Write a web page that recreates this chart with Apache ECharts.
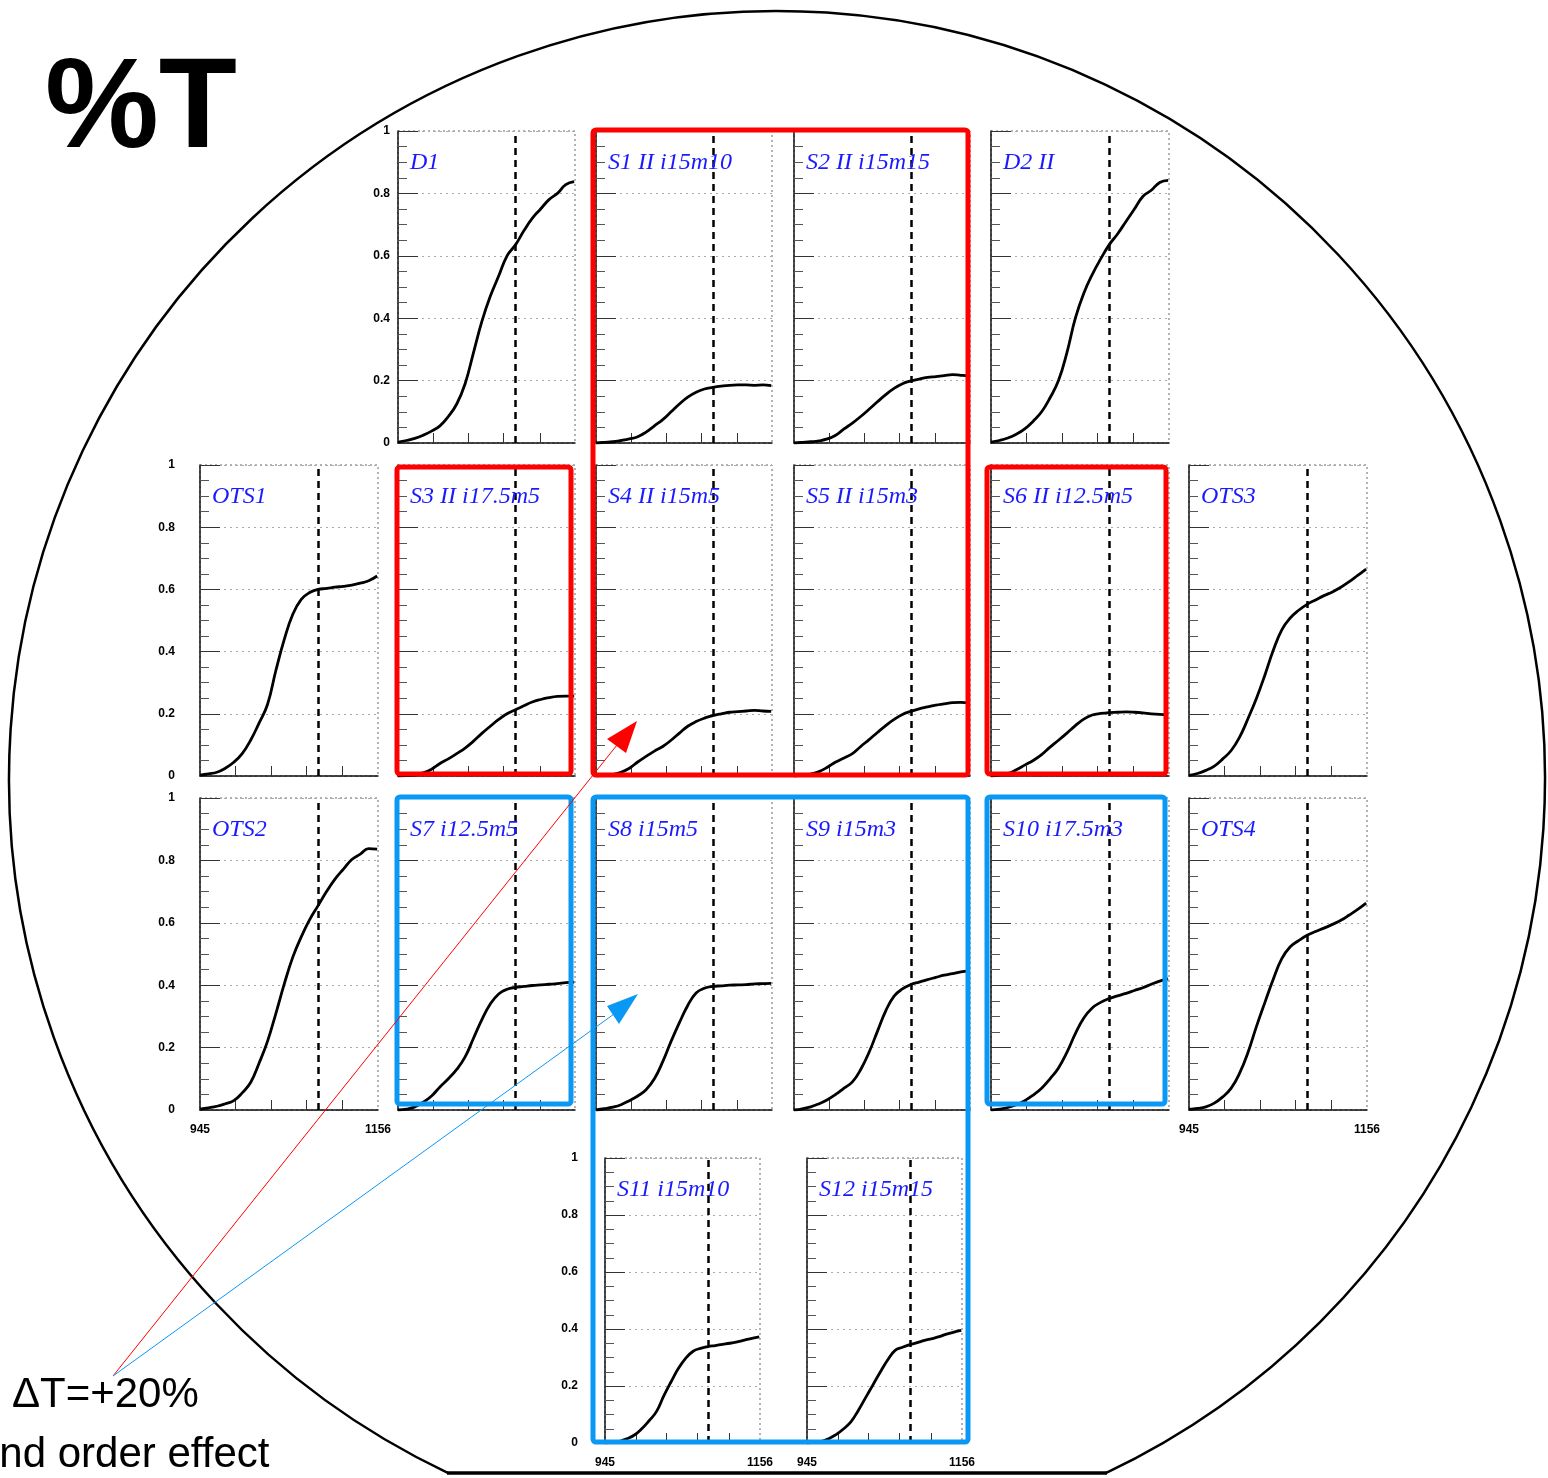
<!DOCTYPE html>
<html>
<head>
<meta charset="utf-8">
<style>
html, body { margin: 0; padding: 0; background: #fff; }
#main { width: 1548px; height: 1478px; }
</style>
<script src="https://cdn.jsdelivr.net/npm/echarts@6/dist/echarts.min.js"></script>
</head>
<body>
<div id="main"></div>
<script>
// x samples (same for every panel)
const wavelength = [945, 955, 965, 975, 985, 995, 1005, 1015, 1025, 1035, 1045, 1055, 1065, 1075, 1085, 1095, 1105, 1115, 1125, 1135, 1145, 1155];
const xTicks = [987, 1029, 1071, 1114];
const xTickLabels = [945, 1156];
const cutValue = 1085;

// %T per site
const d1   = [0.003, 0.008, 0.015, 0.025, 0.038, 0.055, 0.085, 0.125, 0.19, 0.29, 0.39, 0.47, 0.535, 0.60, 0.635, 0.68, 0.72, 0.75, 0.78, 0.80, 0.828, 0.838];
const s1   = [0.0, 0.002, 0.004, 0.008, 0.013, 0.02, 0.035, 0.055, 0.075, 0.10, 0.125, 0.147, 0.163, 0.173, 0.178, 0.182, 0.185, 0.186, 0.186, 0.185, 0.186, 0.184];
const s2   = [0.0, 0.002, 0.004, 0.007, 0.013, 0.025, 0.045, 0.064, 0.085, 0.108, 0.132, 0.155, 0.175, 0.19, 0.199, 0.205, 0.21, 0.213, 0.216, 0.219, 0.217, 0.215];
const d2   = [0.003, 0.008, 0.016, 0.028, 0.045, 0.07, 0.10, 0.145, 0.20, 0.29, 0.40, 0.48, 0.54, 0.59, 0.635, 0.67, 0.71, 0.75, 0.79, 0.81, 0.835, 0.842];
const ots1 = [0.003, 0.007, 0.012, 0.025, 0.044, 0.072, 0.115, 0.17, 0.23, 0.34, 0.44, 0.52, 0.568, 0.59, 0.60, 0.603, 0.607, 0.61, 0.614, 0.62, 0.628, 0.643];
const s3   = [0.0, 0.001, 0.003, 0.01, 0.022, 0.04, 0.055, 0.072, 0.09, 0.112, 0.137, 0.16, 0.182, 0.20, 0.213, 0.226, 0.238, 0.246, 0.252, 0.256, 0.257, 0.257];
const s4   = [0.0, 0.002, 0.005, 0.012, 0.025, 0.045, 0.063, 0.08, 0.095, 0.115, 0.138, 0.16, 0.175, 0.186, 0.194, 0.20, 0.205, 0.207, 0.209, 0.211, 0.209, 0.208];
const s5   = [0.0, 0.002, 0.006, 0.014, 0.028, 0.045, 0.058, 0.072, 0.095, 0.117, 0.14, 0.162, 0.182, 0.198, 0.208, 0.216, 0.222, 0.228, 0.232, 0.236, 0.237, 0.234];
const s6   = [0.0, 0.003, 0.008, 0.02, 0.035, 0.05, 0.069, 0.093, 0.115, 0.138, 0.162, 0.183, 0.196, 0.201, 0.204, 0.205, 0.206, 0.205, 0.203, 0.20, 0.198, 0.197];
const ots3 = [0.002, 0.008, 0.018, 0.032, 0.055, 0.082, 0.125, 0.185, 0.25, 0.325, 0.405, 0.47, 0.508, 0.533, 0.552, 0.566, 0.58, 0.592, 0.607, 0.625, 0.645, 0.665];
const ots2 = [0.003, 0.007, 0.012, 0.02, 0.03, 0.055, 0.088, 0.15, 0.22, 0.31, 0.405, 0.49, 0.555, 0.61, 0.655, 0.70, 0.74, 0.772, 0.803, 0.82, 0.838, 0.836];
const s7   = [0.0, 0.003, 0.01, 0.025, 0.045, 0.074, 0.10, 0.13, 0.17, 0.23, 0.29, 0.34, 0.372, 0.387, 0.393, 0.396, 0.399, 0.401, 0.403, 0.405, 0.408, 0.41];
const s8   = [0.0, 0.004, 0.009, 0.017, 0.03, 0.045, 0.065, 0.10, 0.155, 0.22, 0.28, 0.335, 0.375, 0.39, 0.396, 0.398, 0.40, 0.401, 0.402, 0.404, 0.405, 0.406];
const s9   = [0.0, 0.004, 0.01, 0.02, 0.033, 0.05, 0.07, 0.09, 0.13, 0.185, 0.252, 0.318, 0.365, 0.388, 0.402, 0.41, 0.418, 0.425, 0.432, 0.437, 0.443, 0.446];
const s10  = [0.0, 0.003, 0.008, 0.017, 0.03, 0.048, 0.07, 0.10, 0.135, 0.185, 0.245, 0.295, 0.327, 0.345, 0.357, 0.366, 0.374, 0.383, 0.392, 0.403, 0.413, 0.42];
const ots4 = [0.002, 0.005, 0.01, 0.022, 0.042, 0.07, 0.118, 0.185, 0.268, 0.345, 0.42, 0.485, 0.523, 0.543, 0.56, 0.572, 0.583, 0.595, 0.608, 0.625, 0.643, 0.663];
const s11  = [0.0, 0.002, 0.006, 0.015, 0.028, 0.05, 0.078, 0.11, 0.165, 0.215, 0.262, 0.298, 0.322, 0.332, 0.338, 0.342, 0.346, 0.35, 0.355, 0.361, 0.367, 0.372];
const s12  = [0.0, 0.002, 0.006, 0.016, 0.03, 0.05, 0.075, 0.115, 0.16, 0.205, 0.25, 0.292, 0.325, 0.336, 0.345, 0.352, 0.36, 0.366, 0.373, 0.382, 0.389, 0.395];

// panel layout: title, values, [left, top, width, height], y-label margin, x labels
const panels = [
  { title: 'D1', y: d1, rect: [398, 131, 177, 312], yLab: 8 },
  { title: 'S1 II i15m10', y: s1, rect: [596, 131, 176, 312] },
  { title: 'S2 II i15m15', y: s2, rect: [794, 131, 176, 312] },
  { title: 'D2 II', y: d2, rect: [991, 131, 178, 312] },
  { title: 'OTS1', y: ots1, rect: [200, 465, 178, 311], yLab: 25 },
  { title: 'S3 II i17.5m5', y: s3, rect: [398, 465, 177, 311] },
  { title: 'S4 II i15m5', y: s4, rect: [596, 465, 176, 311] },
  { title: 'S5 II i15m3', y: s5, rect: [794, 465, 176, 311] },
  { title: 'S6 II i12.5m5', y: s6, rect: [991, 465, 178, 311] },
  { title: 'OTS3', y: ots3, rect: [1189, 465, 178, 311] },
  { title: 'OTS2', y: ots2, rect: [200, 798, 178, 312], yLab: 25, xLab: true },
  { title: 'S7 i12.5m5', y: s7, rect: [398, 798, 177, 312] },
  { title: 'S8 i15m5', y: s8, rect: [596, 798, 176, 312] },
  { title: 'S9 i15m3', y: s9, rect: [794, 798, 176, 312] },
  { title: 'S10 i17.5m3', y: s10, rect: [991, 798, 178, 312] },
  { title: 'OTS4', y: ots4, rect: [1189, 798, 178, 312], xLab: true },
  { title: 'S11 i15m10', y: s11, rect: [605, 1158, 155, 285], yLab: 27, xLab: true },
  { title: 'S12 i15m15', y: s12, rect: [807, 1158, 155, 285], xLab: true }
];

const RED = '#ff0000';
const BLUE = '#0a98f5';
const labelFont = { fontSize: 12, fontWeight: 'bold', color: '#000', fontFamily: 'Liberation Sans' };

const chart = echarts.init(document.getElementById('main'));

const boxes = [
  { c: RED, r: [593, 130, 375, 645] },
  { c: RED, r: [397, 467, 174, 307] },
  { c: RED, r: [987, 467, 179, 307] },
  { c: BLUE, r: [397, 797, 174, 307] },
  { c: BLUE, r: [593, 797, 375, 645] },
  { c: BLUE, r: [987, 797, 178, 307] }
];

const graphics = [
  // wafer outline with the flat
  { type: 'arc', z: 50, silent: true,
    shape: { cx: 777, cy: 779, r: 768, startAngle: 2.0124, endAngle: 7.4124, clockwise: true },
    style: { stroke: '#000', lineWidth: 2.5, fill: 'none' } },
  { type: 'line', z: 50, silent: true,
    shape: { x1: 447, y1: 1473, x2: 1107, y2: 1473 },
    style: { stroke: '#000', lineWidth: 3.5 } },
  // arrows
  { type: 'line', z: 60, shape: { x1: 113, y1: 1376, x2: 617, y2: 745 }, style: { stroke: RED, lineWidth: 1 } },
  { type: 'polygon', z: 60, shape: { points: [[637, 721], [607, 739], [626, 753]] }, style: { fill: RED } },
  { type: 'line', z: 60, shape: { x1: 113, y1: 1376, x2: 614, y2: 1014 }, style: { stroke: BLUE, lineWidth: 1 } },
  { type: 'polygon', z: 60, shape: { points: [[638, 994], [607, 1006], [619, 1024]] }, style: { fill: BLUE } },
  // texts
  { type: 'text', z: 60, style: { text: '%T', x: 45, y: 48, font: 'bold 128px "Liberation Sans"', fill: '#000' } },
  { type: 'text', z: 60, style: { text: '\u0394T=+20%', x: 12, y: 1374, font: '42px "Liberation Sans"', fill: '#000' } },
  { type: 'text', z: 60, style: { text: '2nd order effect', x: -24, y: 1434, font: '42px "Liberation Sans"', fill: '#000' } }
];
boxes.forEach(b => {
  graphics.push({ type: 'rect', z: 55, silent: true,
    shape: { x: b.r[0], y: b.r[1], width: b.r[2], height: b.r[3], r: 3 },
    style: { fill: 'none', stroke: b.c, lineWidth: 5 } });
});

const option = {
  animation: false,
  backgroundColor: '#fff',
  title: panels.map(p => ({
    text: p.title,
    left: p.rect[0] + 12,
    top: p.rect[1] + 20,
    padding: 0,
    textStyle: { color: '#1a1aff', fontStyle: 'italic', fontWeight: 'normal', fontFamily: 'Liberation Serif', fontSize: 24 }
  })),
  grid: panels.map(p => ({
    left: p.rect[0], top: p.rect[1], width: p.rect[2], height: p.rect[3],
    show: true, borderColor: '#666', borderWidth: 1, borderType: [2, 3],
    outerBoundsMode: 'none', containLabel: false
  })),
  xAxis: panels.map((p, i) => ({
    gridIndex: i, type: 'value', min: 945, max: 1156,
    axisLine: { show: true, onZero: false, lineStyle: { color: '#111', width: 1.5 } },
    axisTick: { show: true, inside: true, length: 10, customValues: xTicks, lineStyle: { color: '#333' } },
    axisLabel: Object.assign({ show: !!p.xLab, margin: 14, customValues: xTickLabels, formatter: v => String(Math.round(v)) }, labelFont),
    splitLine: { show: false }
  })),
  yAxis: panels.map((p, i) => ({
    gridIndex: i, type: 'value', min: 0, max: 1, interval: 0.2,
    axisLine: { show: true, onZero: false, lineStyle: { color: '#111', width: 1.5 } },
    axisTick: { show: true, inside: true, length: 20, lineStyle: { color: '#333' } },
    minorTick: { show: true, splitNumber: 4, length: 9, lineStyle: { color: '#555' } },
    axisLabel: Object.assign({ show: p.yLab != null, margin: p.yLab || 8 }, labelFont),
    splitLine: { show: true, lineStyle: { color: '#aaa', type: [2, 4], width: 1 } }
  })),
  series: panels.map((p, i) => ({
    type: 'line',
    xAxisIndex: i, yAxisIndex: i,
    data: wavelength.map((x, k) => [x, p.y[k]]),
    showSymbol: false,
    smooth: 0.45,
    lineStyle: { color: '#000', width: 2.8 },
    markLine: {
      silent: true,
      symbol: ['none', 'none'],
      label: { show: false },
      lineStyle: { color: '#000', type: [7, 5], width: 2.5 },
      data: [{ xAxis: cutValue }]
    }
  })),
  graphic: { elements: graphics }
};

chart.setOption(option);
</script>
</body>
</html>
